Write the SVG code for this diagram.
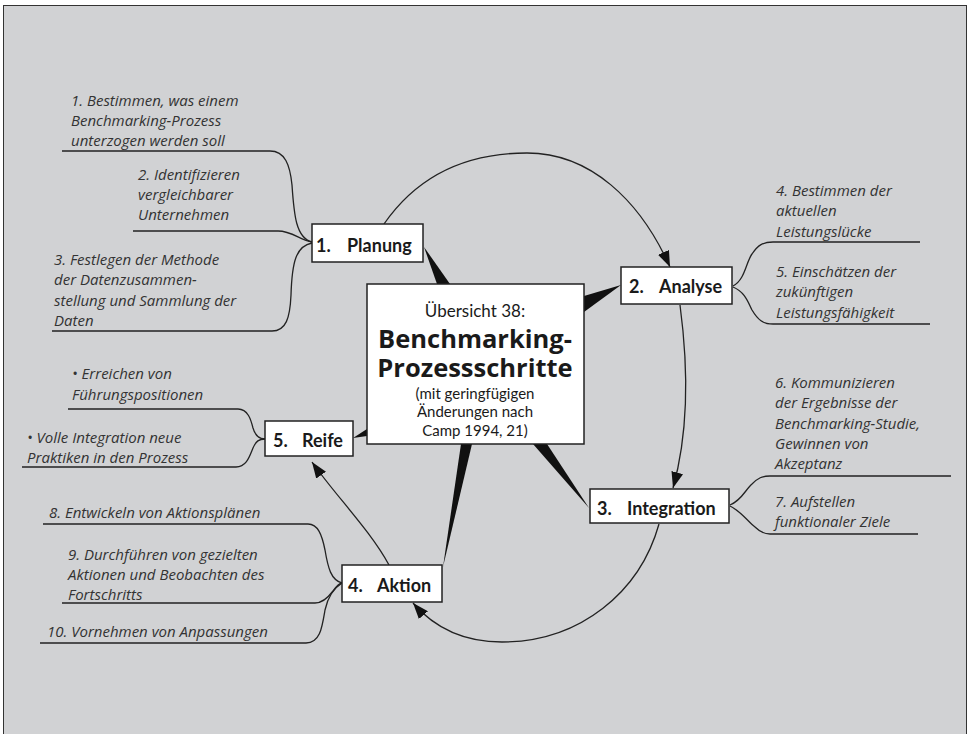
<svg xmlns="http://www.w3.org/2000/svg" width="971" height="734" viewBox="0 0 971 734">
<style>
.lbl{font-family:"Open Sans","Noto Sans","Liberation Sans",sans-serif;font-style:italic;font-size:15px;fill:#333}
.nb{fill:#fff;stroke:#222;stroke-width:1.5}
.nt{font-family:Lato,"Open Sans","Liberation Sans",sans-serif;font-weight:bold;font-size:18px;fill:#1a1a1a}
.ln{fill:none;stroke:#222;stroke-width:1.3}
.wd{fill:#111;stroke:none}
.ct{font-family:Lato,"Open Sans","Liberation Sans",sans-serif;fill:#1a1a1a;text-anchor:middle}
.tt{font-family:"Open Sans",Lato,"Liberation Sans",sans-serif;font-weight:bold;font-size:25.5px;fill:#1a1a1a;text-anchor:middle}
</style>
<defs>
<marker id="ah" viewBox="0 0 16 12" refX="16" refY="6" markerWidth="16" markerHeight="12" markerUnits="userSpaceOnUse" orient="auto">
<path d="M0,0 L16,6 L0,12 z" fill="#111"/>
</marker>
</defs>
<rect x="0" y="0" width="971" height="734" fill="#fff"/>
<rect x="3.5" y="5.5" width="963" height="740" fill="#d1d2d4" stroke="#333" stroke-width="1"/>

<g id="connectors">
<!-- wedges -->
<polygon class="wd" points="424,247 437,284 450,284"/>
<polygon class="wd" points="621,285 584,296 584,312"/>
<polygon class="wd" points="353,438 367,429 367,436"/>
<polygon class="wd" points="443,567 461,444 472,444"/>
<polygon class="wd" points="589,508 533,444 547,444"/>
<!-- cycle arrows -->
<path class="ln" d="M384,224 C420,172 470,153 527,153 C590,153 640,200 670,267" marker-end="url(#ah)"/>
<path class="ln" d="M680,305 C686,350 692,420 673,488" marker-end="url(#ah)"/>
<path class="ln" d="M659,524 C640,592 580,642 502,642 C460,642 432,625 413,603" marker-end="url(#ah)"/>
<path class="ln" d="M389,565 C370,530 335,495 312,462" marker-end="url(#ah)"/>
<!-- label underlines: Planung -->
<path class="ln" d="M62,151 H270 C285,151 290,165 292,185 C294,215 296,238 312,242"/>
<path class="ln" d="M133,231 H278 C292,231 300,240 312,242"/>
<path class="ln" d="M52,331 H272 C286,331 290,318 291,295 C292,262 296,246 312,243"/>
<!-- Analyse -->
<path class="ln" d="M733,286 C745,280 746,262 752,254 C758,245 763,242 773,242 H920"/>
<path class="ln" d="M733,287 C745,292 748,302 752,310 C758,320 763,324 773,324 H930"/>
<!-- Integration -->
<path class="ln" d="M730,505 C742,500 745,490 752,484 C758,478 762,476 770,476 H951"/>
<path class="ln" d="M730,506 C742,512 748,522 755,527 C760,532 764,534 770,534 H918"/>
<!-- Reife -->
<path class="ln" d="M68,409 H238 C248,409 251,420 253,428 C255,435 258,439 265,439"/>
<path class="ln" d="M22,467 H236 C247,467 250,455 253,448 C256,441 259,439 265,439"/>
<!-- Aktion -->
<path class="ln" d="M43,524 H308 C318,524 322,535 325,550 C328,568 331,580 342,583"/>
<path class="ln" d="M62,603 H315 C324,603 330,595 333,591 C336,587 338,584 342,583"/>
<path class="ln" d="M342,583 C334,588 328,596 325,610 C322,628 320,643 306,643 H40"/>
</g>

<g id="center">
<rect class="nb" x="367" y="284" width="217" height="160"/>
<text class="ct" x="475" y="317" font-size="17">Übersicht 38:</text>
<text class="tt"><tspan x="475" y="348">Benchmarking-</tspan><tspan x="475" y="377">Prozessschritte</tspan></text>
<text class="ct" font-size="15"><tspan x="475" y="399">(mit geringfügigen</tspan><tspan x="475" y="417">Änderungen nach</tspan><tspan x="475" y="436">Camp 1994, 21)</tspan></text>
</g>

<g id="node1">
<rect class="nb" x="312" y="224" width="111" height="38"/>
<text class="nt" y="252"><tspan x="316">1.</tspan><tspan x="347">Planung</tspan></text>
</g>
<g id="node2">
<rect class="nb" x="621" y="267" width="111" height="37"/>
<text class="nt" y="293"><tspan x="629">2.</tspan><tspan x="659">Analyse</tspan></text>
</g>
<g id="node3">
<rect class="nb" x="590" y="489" width="139" height="34"/>
<text class="nt" y="515"><tspan x="597">3.</tspan><tspan x="627">Integration</tspan></text>
</g>
<g id="node4">
<rect class="nb" x="342" y="565" width="100" height="37"/>
<text class="nt" y="592"><tspan x="348">4.</tspan><tspan x="377">Aktion</tspan></text>
</g>
<g id="node5">
<rect class="nb" x="265" y="421" width="88" height="35"/>
<text class="nt" y="447"><tspan x="273">5.</tspan><tspan x="302">Reife</tspan></text>
</g>

<g id="labels-planung">
<text class="lbl"><tspan x="71" y="106">1. Bestimmen, was einem</tspan><tspan x="71" y="126">Benchmarking-Prozess</tspan><tspan x="71" y="146">unterzogen werden soll</tspan></text>
<text class="lbl"><tspan x="138" y="180">2. Identifizieren</tspan><tspan x="138" y="200">vergleichbarer</tspan><tspan x="138" y="220">Unternehmen</tspan></text>
<text class="lbl"><tspan x="54" y="265">3. Festlegen der Methode</tspan><tspan x="54" y="285">der Datenzusammen-</tspan><tspan x="54" y="306">stellung und Sammlung der</tspan><tspan x="54" y="326">Daten</tspan></text>
</g>
<g id="labels-analyse">
<text class="lbl"><tspan x="776" y="196">4. Bestimmen der</tspan><tspan x="776" y="216">aktuellen</tspan><tspan x="776" y="237">Leistungslücke</tspan></text>
<text class="lbl"><tspan x="776" y="277">5. Einschätzen der</tspan><tspan x="776" y="297">zukünftigen</tspan><tspan x="776" y="318">Leistungsfähigkeit</tspan></text>
</g>
<g id="labels-integration">
<text class="lbl"><tspan x="775" y="388">6. Kommunizieren</tspan><tspan x="775" y="408">der Ergebnisse der</tspan><tspan x="775" y="429">Benchmarking-Studie,</tspan><tspan x="775" y="449">Gewinnen von</tspan><tspan x="775" y="469">Akzeptanz</tspan></text>
<text class="lbl"><tspan x="775" y="507">7. Aufstellen</tspan><tspan x="775" y="527">funktionaler Ziele</tspan></text>
</g>
<g id="labels-reife">
<text class="lbl"><tspan x="72" y="379">• Erreichen von</tspan><tspan x="72" y="400">Führungspositionen</tspan></text>
<text class="lbl"><tspan x="27" y="443">• Volle Integration neue</tspan><tspan x="27" y="463">Praktiken in den Prozess</tspan></text>
</g>
<g id="labels-aktion">
<text class="lbl" x="49" y="518">8. Entwickeln von Aktionsplänen</text>
<text class="lbl"><tspan x="68" y="560">9. Durchführen von gezielten</tspan><tspan x="68" y="580">Aktionen und Beobachten des</tspan><tspan x="68" y="600">Fortschritts</tspan></text>
<text class="lbl" x="47" y="637">10. Vornehmen von Anpassungen</text>
</g>
</svg>
